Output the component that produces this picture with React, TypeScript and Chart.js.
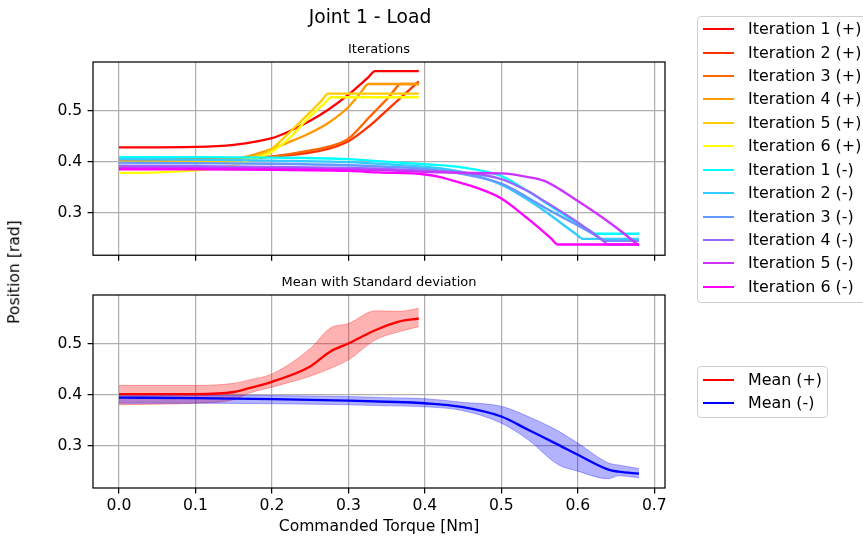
import React, { useEffect, useRef } from "react";
import { Chart, registerables } from "chart.js";

Chart.register(...registerables);

const FONT = "'DejaVu Sans', 'Liberation Sans', sans-serif";

// ---------- axis settings ----------
const X_MIN = -0.034;
const X_MAX = 0.714;
const Y_MIN = 0.217;
const Y_MAX = 0.595;
const xTickStep = 0.1;
const yTickStep = 0.1;

// ---------- labels ----------
const figTitle = "Joint 1 - Load";
const topTitle = "Iterations";
const bottomTitle = "Mean with Standard deviation";
const xAxisTitle = "Commanded Torque [Nm]";
const yAxisTitle = "Position [rad]";

const plusLabels = ["Iteration 1 (+)", "Iteration 2 (+)", "Iteration 3 (+)", "Iteration 4 (+)", "Iteration 5 (+)", "Iteration 6 (+)"];
const minusLabels = ["Iteration 1 (-)", "Iteration 2 (-)", "Iteration 3 (-)", "Iteration 4 (-)", "Iteration 5 (-)", "Iteration 6 (-)"];
const plusColors = ["#ff0000", "#ff3300", "#ff6600", "#ff9900", "#ffcc00", "#ffff00"];
const minusColors = ["#00ffff", "#33ccff", "#6699ff", "#9966ff", "#cc33ff", "#ff00ff"];
const meanLabels = ["Mean (+)", "Mean (-)"];
const meanColors = ["#ff0000", "#0000ff"];

// ---------- iterations (+) ----------
const plus1X = [0, 0.1, 0.15, 0.2, 0.222, 0.25, 0.274, 0.3, 0.326, 0.335, 0.392];
const plus1Y = [0.428, 0.429, 0.433, 0.446, 0.459, 0.48, 0.502, 0.531, 0.565, 0.577, 0.577];
const plus2X = [0, 0.1, 0.15, 0.2, 0.25, 0.28, 0.3, 0.326, 0.352, 0.392];
const plus2Y = [0.405, 0.405, 0.406, 0.41, 0.418, 0.428, 0.44, 0.468, 0.503, 0.557];
const plus3X = [0, 0.1, 0.15, 0.2, 0.25, 0.28, 0.3, 0.326, 0.339, 0.352, 0.359, 0.368, 0.392];
const plus3Y = [0.404, 0.404, 0.405, 0.41, 0.422, 0.432, 0.445, 0.485, 0.505, 0.525, 0.538, 0.552, 0.552];
const plus4X = [0, 0.1, 0.15, 0.17, 0.2, 0.222, 0.25, 0.274, 0.3, 0.316, 0.326, 0.392];
const plus4Y = [0.404, 0.404, 0.406, 0.411, 0.425, 0.438, 0.456, 0.476, 0.507, 0.535, 0.552, 0.552];
const plus5X = [0, 0.1, 0.15, 0.17, 0.196, 0.222, 0.25, 0.264, 0.274, 0.392];
const plus5Y = [0.399, 0.399, 0.401, 0.407, 0.421, 0.456, 0.497, 0.518, 0.533, 0.533];
const plus6X = [0, 0.05, 0.1, 0.15, 0.17, 0.196, 0.222, 0.248, 0.268, 0.278, 0.392];
const plus6Y = [0.378, 0.379, 0.383, 0.393, 0.403, 0.416, 0.445, 0.486, 0.513, 0.526, 0.526];

// ---------- iterations (-) ----------
const minus1X = [0, 0.1, 0.2, 0.3, 0.339, 0.4, 0.448, 0.5, 0.535, 0.578, 0.6, 0.615, 0.624, 0.68];
const minus1Y = [0.409, 0.409, 0.408, 0.405, 0.401, 0.395, 0.389, 0.372, 0.342, 0.3, 0.279, 0.266, 0.259, 0.259];
const minus2X = [0, 0.1, 0.2, 0.3, 0.35, 0.4, 0.448, 0.5, 0.535, 0.557, 0.598, 0.607, 0.68];
const minus2Y = [0.405, 0.404, 0.402, 0.399, 0.395, 0.39, 0.38, 0.355, 0.325, 0.303, 0.258, 0.249, 0.249];
const minus3X = [0, 0.1, 0.2, 0.3, 0.35, 0.4, 0.448, 0.5, 0.557, 0.6, 0.626, 0.635, 0.68];
const minus3Y = [0.398, 0.397, 0.396, 0.393, 0.39, 0.386, 0.376, 0.357, 0.31, 0.275, 0.253, 0.245, 0.245];
const minus4X = [0, 0.1, 0.2, 0.3, 0.35, 0.4, 0.448, 0.5, 0.535, 0.557, 0.6, 0.631, 0.64, 0.68];
const minus4Y = [0.392, 0.391, 0.39, 0.388, 0.386, 0.382, 0.379, 0.366, 0.342, 0.322, 0.281, 0.248, 0.238, 0.238];
const minus5X = [0, 0.1, 0.2, 0.3, 0.35, 0.4, 0.448, 0.5, 0.535, 0.557, 0.6, 0.644, 0.68];
const minus5Y = [0.388, 0.388, 0.387, 0.385, 0.383, 0.38, 0.378, 0.377, 0.37, 0.362, 0.323, 0.278, 0.236];
const minus6X = [0, 0.1, 0.2, 0.3, 0.339, 0.4, 0.42, 0.448, 0.475, 0.5, 0.535, 0.565, 0.574, 0.68];
const minus6Y = [0.385, 0.385, 0.384, 0.382, 0.379, 0.375, 0.37, 0.358, 0.345, 0.328, 0.288, 0.25, 0.238, 0.238];

// ---------- mean with std ----------
const meanPlusX = [0, 0.05, 0.1, 0.15, 0.17, 0.2, 0.25, 0.276, 0.3, 0.335, 0.366, 0.392];
const meanPlusY = [0.401, 0.401, 0.401, 0.405, 0.4125, 0.425, 0.455, 0.484, 0.5, 0.526, 0.543, 0.549];
const plusUpperY = [0.418, 0.418, 0.418, 0.422, 0.4287, 0.4404, 0.49, 0.53, 0.539, 0.564, 0.563, 0.569];
const plusLowerY = [0.38, 0.381, 0.383, 0.39, 0.4027, 0.4145, 0.436, 0.451, 0.468, 0.507, 0.523, 0.533];

const meanMinusX = [0, 0.1, 0.2, 0.3, 0.35, 0.4, 0.448, 0.5, 0.535, 0.574, 0.6, 0.64, 0.653, 0.68];
const meanMinusY = [0.394, 0.393, 0.391, 0.388, 0.386, 0.383, 0.376, 0.357, 0.331, 0.302, 0.282, 0.253, 0.249, 0.245];
const minusUpperY = [0.3995, 0.399, 0.398, 0.396, 0.394, 0.392, 0.385, 0.377, 0.357, 0.329, 0.305, 0.266, 0.262, 0.255];
const minusLowerY = [0.383, 0.383, 0.382, 0.38, 0.378, 0.376, 0.369, 0.344, 0.3115, 0.263, 0.25, 0.235, 0.241, 0.237];

const plusXs = [plus1X, plus2X, plus3X, plus4X, plus5X, plus6X];
const plusYs = [plus1Y, plus2Y, plus3Y, plus4Y, plus5Y, plus6Y];
const minusXs = [minus1X, minus2X, minus3X, minus4X, minus5X, minus6X];
const minusYs = [minus1Y, minus2Y, minus3Y, minus4Y, minus5Y, minus6Y];

const zip = (xs: number[], ys: number[]) => xs.map((x, i) => ({ x, y: ys[i] }));

const LW = 2.33;
const THIN = 1.24;

const axesBox = {
  id: "axesBox",
  afterDatasetsDraw(chart: any) {
    const { ctx, chartArea: a } = chart;
    ctx.save();
    ctx.strokeStyle = "#000";
    ctx.lineWidth = THIN;
    ctx.strokeRect(a.left, a.top, a.right - a.left, a.bottom - a.top);
    ctx.restore();
  },
};

function makeScales(showX: boolean) {
  const tickFont = { family: FONT, size: 15.6 };
  return {
    x: {
      type: "linear",
      min: X_MIN,
      max: X_MAX,
      afterFit: (s: any) => {
        s.height = showX ? 54 : 14;
      },
      border: { display: false },
      grid: { color: "#b0b0b0", lineWidth: THIN, tickColor: "#000", tickLength: 5.4, tickWidth: THIN, drawTicks: true },
      ticks: {
        display: showX,
        stepSize: xTickStep,
        includeBounds: false,
        padding: 3,
        color: "#000",
        font: tickFont,
        maxRotation: 0,
        autoSkip: false,
        callback: (v: any) => Number(v).toFixed(1),
      },
      title: {
        display: showX,
        text: xAxisTitle,
        color: "#000",
        font: tickFont,
        padding: { top: 0, bottom: 6 },
      },
    },
    y: {
      type: "linear",
      min: Y_MIN,
      max: Y_MAX,
      afterFit: (s: any) => {
        s.width = 93;
      },
      border: { display: false },
      grid: { color: "#b0b0b0", lineWidth: THIN, tickColor: "#000", tickLength: 5.4, tickWidth: THIN, drawTicks: true },
      ticks: {
        stepSize: yTickStep,
        includeBounds: false,
        padding: 5.4,
        color: "#000",
        font: tickFont,
        autoSkip: false,
        callback: (v: any) => Number(v).toFixed(1),
      },
    },
  };
}

function baseOptions(showX: boolean, topPad: number) {
  return {
    responsive: false,
    animation: false,
    devicePixelRatio: 1,
    layout: { padding: { top: topPad, left: 0, right: 35, bottom: 0 } },
    plugins: { legend: { display: false }, tooltip: { enabled: false }, title: { display: false } },
    elements: { point: { radius: 0 }, line: { cubicInterpolationMode: "monotone", borderJoinStyle: "round", borderCapStyle: "butt" } },
    scales: makeScales(showX),
  };
}

export default function App() {
  const topRef = useRef<HTMLCanvasElement | null>(null);
  const botRef = useRef<HTMLCanvasElement | null>(null);

  useEffect(() => {
    const lines: any[] = [];
    plusXs.forEach((xs, i) => lines.push({ label: plusLabels[i], data: zip(xs, plusYs[i]), borderColor: plusColors[i], backgroundColor: plusColors[i], borderWidth: LW, fill: false }));
    minusXs.forEach((xs, i) => lines.push({ label: minusLabels[i], data: zip(xs, minusYs[i]), borderColor: minusColors[i], backgroundColor: minusColors[i], borderWidth: LW, fill: false }));
    lines.forEach((d, i) => (d.order = lines.length - i));

    const top = new Chart(topRef.current as HTMLCanvasElement, {
      type: "line",
      data: { datasets: lines },
      options: baseOptions(false, 62) as any,
      plugins: [axesBox],
    });

    const redBand = "rgba(255,0,0,0.3)";
    const blueBand = "rgba(0,0,255,0.3)";
    const bands: any[] = [
      { label: "plusUpper", data: zip(meanPlusX, plusUpperY), borderColor: redBand, backgroundColor: redBand, borderWidth: 1, fill: "+1" },
      { label: "plusLower", data: zip(meanPlusX, plusLowerY), borderColor: redBand, backgroundColor: redBand, borderWidth: 1, fill: false },
      { label: "minusUpper", data: zip(meanMinusX, minusUpperY), borderColor: blueBand, backgroundColor: blueBand, borderWidth: 1, fill: "+1" },
      { label: "minusLower", data: zip(meanMinusX, minusLowerY), borderColor: blueBand, backgroundColor: blueBand, borderWidth: 1, fill: false },
      { label: meanLabels[0], data: zip(meanPlusX, meanPlusY), borderColor: meanColors[0], backgroundColor: meanColors[0], borderWidth: LW, fill: false },
      { label: meanLabels[1], data: zip(meanMinusX, meanMinusY), borderColor: meanColors[1], backgroundColor: meanColors[1], borderWidth: LW, fill: false },
    ];
    bands.forEach((d, i) => (d.order = bands.length - i));

    const bot = new Chart(botRef.current as HTMLCanvasElement, {
      type: "line",
      data: { datasets: bands },
      options: baseOptions(true, 25) as any,
      plugins: [axesBox],
    });

    return () => {
      top.destroy();
      bot.destroy();
    };
  }, []);

  const abs = (o: any): React.CSSProperties => ({ position: "absolute", ...o });
  const centered = (x: number, y: number, size: number, text: string, rotate = false) => (
    <div
      style={abs({
        left: x,
        top: y,
        fontSize: size,
        lineHeight: 1,
        whiteSpace: "nowrap",
        transform: rotate ? "translate(-50%,-50%) rotate(-90deg)" : "translate(-50%,-50%)",
        color: "#000",
      })}
    >
      {text}
    </div>
  );

  const legendRow = (label: string, color: string, y: number, key: string) => {
    const yr = Math.round(y);
    return (
      <React.Fragment key={key}>
        <div style={abs({ left: 703, top: yr - 1, width: 31, height: 2, background: color })} />
        <div style={abs({ left: 748, top: yr, fontSize: 15.9, lineHeight: 1, whiteSpace: "nowrap", transform: "translateY(-50%)", color: "#000" })}>{label}</div>
      </React.Fragment>
    );
  };

  const iterLabels = [...plusLabels, ...minusLabels];
  const iterColors = [...plusColors, ...minusColors];

  return (
    <div style={abs({ left: 0, top: 0, width: 863, height: 542, overflow: "hidden", background: "#fff", fontFamily: FONT })}>
      <canvas ref={topRef} width={700} height={270} style={abs({ left: 0, top: 0, width: 700, height: 270 })} />
      <canvas ref={botRef} width={700} height={272} style={abs({ left: 0, top: 270, width: 700, height: 272 })} />
      {centered(370, 17, 18.7, figTitle)}
      {centered(379, 48, 13, topTitle)}
      {centered(379, 281, 13, bottomTitle)}
      {centered(15, 272, 15.6, yAxisTitle, true)}
      <div style={abs({ left: 697, top: 16, width: 190, height: 287, border: "1px solid #d0d0d0", borderRadius: 4, boxSizing: "border-box", background: "rgba(255,255,255,0.8)" })} />
      {iterLabels.map((l, i) => legendRow(l, iterColors[i], 29.3 + i * 23.4, "it" + i))}
      <div style={abs({ left: 697, top: 366, width: 131, height: 52, border: "1px solid #d0d0d0", borderRadius: 4, boxSizing: "border-box", background: "rgba(255,255,255,0.8)" })} />
      {meanLabels.map((l, i) => legendRow(l, meanColors[i], 379.5 + i * 23.4, "m" + i))}
    </div>
  );
}
